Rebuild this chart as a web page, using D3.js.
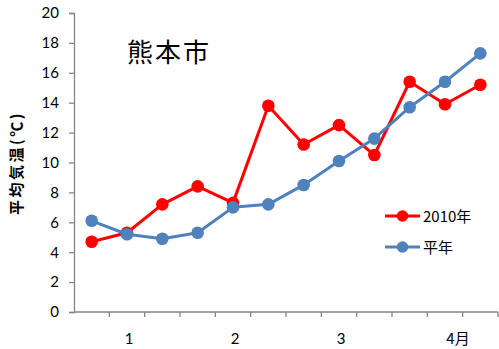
<!DOCTYPE html>
<html>
<head>
<meta charset="utf-8">
<script src="https://cdn.jsdelivr.net/npm/d3@7"></script>
<style>
  html, body { margin: 0; padding: 0; background: #fff; }
  svg { display: block; }
  text { font-family: Lato, "Open Sans", "Noto Sans CJK JP", sans-serif; fill: #000; }
  .cjk { font-family: "Noto Sans CJK JP", sans-serif; }
</style>
</head>
<body>
<svg id="chart" width="499" height="349"></svg>
<script>
// 旬ごとの平均気温（1月上旬〜4月下旬）
const periods = ["1上", "1中", "1下", "2上", "2中", "2下", "3上", "3中", "3下", "4上", "4中", "4下"];
const temp2010 = [4.7, 5.3, 7.2, 8.4, 7.3, 13.8, 11.2, 12.5, 10.5, 15.4, 13.9, 15.2];
const tempNormal = [6.1, 5.2, 4.9, 5.3, 7.0, 7.2, 8.5, 10.1, 11.6, 13.7, 15.4, 17.3];
const yTicks = [0, 2, 4, 6, 8, 10, 12, 14, 16, 18, 20];
const monthLabels = [
  { period: "1中", text: "1" },
  { period: "2中", text: "2" },
  { period: "3中", text: "3" },
  { period: "4中", text: "4月" }
];
const seriesList = [
  { name: "2010年", values: temp2010, color: "#FF0000" },
  { name: "平年", values: tempNormal, color: "#4F81BD" }
];

const svg = d3.select("#chart");
const margin = { left: 74, right: 1, top: 13, bottom: 37 };
const W = 499, H = 349;

const x = d3.scaleBand().domain(periods).range([margin.left, W - margin.right]);
const y = d3.scaleLinear().domain([0, 20]).range([H - margin.bottom, margin.top]);

const axisColor = "#858585";

// y軸
const yAxis = svg.append("g")
  .attr("transform", `translate(${margin.left},0)`)
  .call(d3.axisLeft(y).tickValues(yTicks).tickSize(5).tickPadding(10));
yAxis.select(".domain").attr("stroke", axisColor).attr("stroke-width", 1.3);
yAxis.selectAll(".tick line").attr("stroke", axisColor).attr("stroke-width", 1.3);
yAxis.selectAll(".tick text").attr("font-size", 15).attr("fill", "#000")
  .style("font-family", "Lato, 'Open Sans', sans-serif");

// x軸（区切り目盛り）
const xAxisY = y(0);
const g = svg.append("g");
g.append("line")
  .attr("x1", margin.left).attr("x2", W - margin.right)
  .attr("y1", xAxisY).attr("y2", xAxisY)
  .attr("stroke", axisColor).attr("stroke-width", 1.3);
const boundaries = periods.map(p => x(p)).concat([x(periods[periods.length - 1]) + x.bandwidth()]);
g.selectAll(".xtick").data(boundaries.slice(1)).join("line")
  .attr("x1", d => d).attr("x2", d => d)
  .attr("y1", xAxisY).attr("y2", xAxisY + 5)
  .attr("stroke", axisColor).attr("stroke-width", 1.3);
g.selectAll(".xlabel").data(monthLabels).join("text")
  .attr("x", d => x(d.period) + x.bandwidth() / 2 + (d.text.length > 1 ? 13 : 2))
  .attr("y", xAxisY + 32)
  .attr("text-anchor", "middle")
  .attr("font-size", 15)
  .attr("class", d => d.text.length > 1 ? "cjk" : null)
  .text(d => d.text);

// 系列
const line = d3.line()
  .x((d, i) => x(periods[i]) + x.bandwidth() / 2)
  .y(d => y(d));

seriesList.forEach(s => {
  svg.append("path")
    .datum(s.values)
    .attr("fill", "none")
    .attr("stroke", s.color)
    .attr("stroke-width", 3)
    .attr("stroke-linejoin", "round")
    .attr("d", line);
  svg.append("g").selectAll("circle").data(s.values).join("circle")
    .attr("cx", (d, i) => x(periods[i]) + x.bandwidth() / 2)
    .attr("cy", d => y(d))
    .attr("r", 6.3)
    .attr("fill", s.color);
});

// タイトル
svg.append("text")
  .attr("class", "cjk")
  .attr("x", 127).attr("y", 62)
  .attr("font-size", 26)
  .attr("letter-spacing", 2)
  .text("熊本市");

// 軸ラベル
svg.append("text")
  .attr("class", "cjk")
  .attr("transform", "translate(22,163) rotate(-90)")
  .attr("text-anchor", "middle")
  .attr("font-size", 15)
  .attr("letter-spacing", 2.5)
  .attr("font-weight", "bold")
  .text("平均気温(℃)");

// 凡例
const legend = svg.append("g");
seriesList.forEach((s, i) => {
  const ly = 216 + i * 31;
  legend.append("line")
    .attr("x1", 385).attr("x2", 420)
    .attr("y1", ly).attr("y2", ly)
    .attr("stroke", s.color).attr("stroke-width", 3);
  legend.append("circle")
    .attr("cx", 402.5).attr("cy", ly).attr("r", 5.8)
    .attr("fill", s.color);
  legend.append("text")
    .attr("class", "cjk")
    .attr("x", 423).attr("y", ly + 5.5)
    .attr("font-size", 15)
    .text(s.name);
});
</script>
</body>
</html>
